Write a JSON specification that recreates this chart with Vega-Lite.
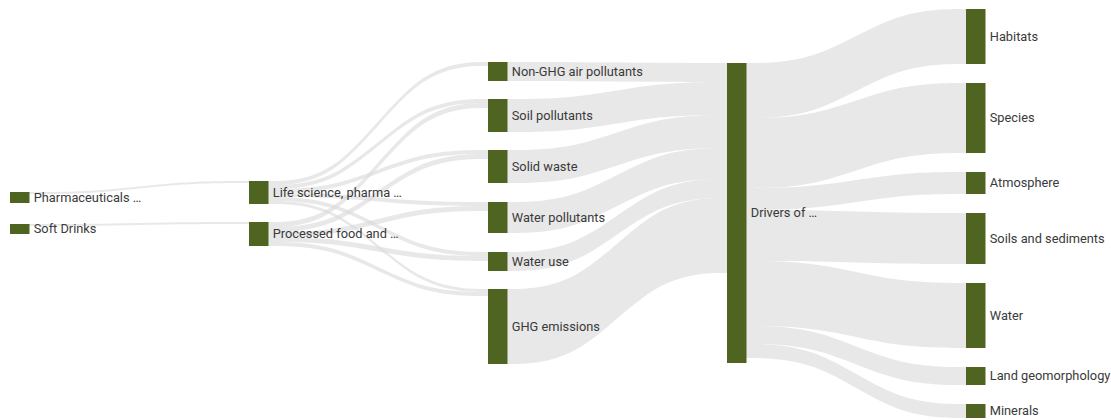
{
  "$schema": "https://vega.github.io/schema/vega-lite/v6.json",
  "width": 1111,
  "height": 420,
  "autosize": {"type": "none"},
  "padding": 0,
  "background": "white",
  "config": {"view": {"stroke": null}},
  "datasets": {
    "links": [
      {"l":"PL","x":0,"t":192,"b":194},{"l":"PL","x":0.333,"t":192,"b":194},{"l":"PL","x":0.667,"t":181,"b":183},{"l":"PL","x":1,"t":181,"b":183},
      {"l":"SP","x":0,"t":224,"b":226},{"l":"SP","x":0.333,"t":224,"b":226},{"l":"SP","x":0.667,"t":222,"b":224},{"l":"SP","x":1,"t":222,"b":224},
      {"l":"LNG","x":1,"t":181,"b":185},{"l":"LNG","x":1.333,"t":181,"b":185},{"l":"LNG","x":1.667,"t":62,"b":66},{"l":"LNG","x":2,"t":62,"b":66},
      {"l":"LSP","x":1,"t":185,"b":189},{"l":"LSP","x":1.333,"t":185,"b":189},{"l":"LSP","x":1.667,"t":99,"b":103},{"l":"LSP","x":2,"t":99,"b":103},
      {"l":"LSW","x":1,"t":189,"b":193},{"l":"LSW","x":1.333,"t":189,"b":193},{"l":"LSW","x":1.667,"t":150,"b":154},{"l":"LSW","x":2,"t":150,"b":154},
      {"l":"LWP","x":1,"t":193,"b":197},{"l":"LWP","x":1.333,"t":193,"b":197},{"l":"LWP","x":1.667,"t":202,"b":206},{"l":"LWP","x":2,"t":202,"b":206},
      {"l":"LWU","x":1,"t":197,"b":201},{"l":"LWU","x":1.333,"t":197,"b":201},{"l":"LWU","x":1.667,"t":252,"b":256},{"l":"LWU","x":2,"t":252,"b":256},
      {"l":"LGHG","x":1,"t":201,"b":204},{"l":"LGHG","x":1.333,"t":201,"b":204},{"l":"LGHG","x":1.667,"t":289,"b":292},{"l":"LGHG","x":2,"t":289,"b":292},
      {"l":"PSP","x":1,"t":222,"b":227},{"l":"PSP","x":1.333,"t":222,"b":227},{"l":"PSP","x":1.667,"t":103,"b":108},{"l":"PSP","x":2,"t":103,"b":108},
      {"l":"PSW","x":1,"t":227,"b":232},{"l":"PSW","x":1.333,"t":227,"b":232},{"l":"PSW","x":1.667,"t":154,"b":159},{"l":"PSW","x":2,"t":154,"b":159},
      {"l":"PWP","x":1,"t":232,"b":237},{"l":"PWP","x":1.333,"t":232,"b":237},{"l":"PWP","x":1.667,"t":206,"b":211},{"l":"PWP","x":2,"t":206,"b":211},
      {"l":"PWU","x":1,"t":237,"b":242},{"l":"PWU","x":1.333,"t":237,"b":242},{"l":"PWU","x":1.667,"t":256,"b":261},{"l":"PWU","x":2,"t":256,"b":261},
      {"l":"PGHG","x":1,"t":242,"b":246},{"l":"PGHG","x":1.333,"t":242,"b":246},{"l":"PGHG","x":1.667,"t":292,"b":296},{"l":"PGHG","x":2,"t":292,"b":296},
      {"l":"NGD","x":2,"t":62,"b":81},{"l":"NGD","x":2.333,"t":62,"b":81},{"l":"NGD","x":2.667,"t":63,"b":82},{"l":"NGD","x":3,"t":63,"b":82},
      {"l":"SPD","x":2,"t":99,"b":132},{"l":"SPD","x":2.333,"t":99,"b":132},{"l":"SPD","x":2.667,"t":82,"b":115},{"l":"SPD","x":3,"t":82,"b":115},
      {"l":"SWD","x":2,"t":150,"b":183},{"l":"SWD","x":2.333,"t":150,"b":183},{"l":"SWD","x":2.667,"t":115,"b":148},{"l":"SWD","x":3,"t":115,"b":148},
      {"l":"WPD","x":2,"t":202,"b":233},{"l":"WPD","x":2.333,"t":202,"b":233},{"l":"WPD","x":2.667,"t":148,"b":179},{"l":"WPD","x":3,"t":148,"b":179},
      {"l":"WUD","x":2,"t":252,"b":271},{"l":"WUD","x":2.333,"t":252,"b":271},{"l":"WUD","x":2.667,"t":179,"b":198},{"l":"WUD","x":3,"t":179,"b":198},
      {"l":"GHGD","x":2,"t":289,"b":364},{"l":"GHGD","x":2.333,"t":289,"b":364},{"l":"GHGD","x":2.667,"t":198,"b":273},{"l":"GHGD","x":3,"t":198,"b":273},
      {"l":"DH","x":3,"t":63,"b":118},{"l":"DH","x":3.333,"t":63,"b":118},{"l":"DH","x":3.667,"t":9,"b":64},{"l":"DH","x":4,"t":9,"b":64},
      {"l":"DS","x":3,"t":118,"b":188},{"l":"DS","x":3.333,"t":118,"b":188},{"l":"DS","x":3.667,"t":83,"b":153},{"l":"DS","x":4,"t":83,"b":153},
      {"l":"DA","x":3,"t":188,"b":210},{"l":"DA","x":3.333,"t":188,"b":210},{"l":"DA","x":3.667,"t":172,"b":194},{"l":"DA","x":4,"t":172,"b":194},
      {"l":"DSo","x":3,"t":210,"b":261},{"l":"DSo","x":3.333,"t":210,"b":261},{"l":"DSo","x":3.667,"t":213,"b":264},{"l":"DSo","x":4,"t":213,"b":264},
      {"l":"DW","x":3,"t":261,"b":326},{"l":"DW","x":3.333,"t":261,"b":326},{"l":"DW","x":3.667,"t":283,"b":348},{"l":"DW","x":4,"t":283,"b":348},
      {"l":"DL","x":3,"t":326,"b":344},{"l":"DL","x":3.333,"t":326,"b":344},{"l":"DL","x":3.667,"t":367,"b":385},{"l":"DL","x":4,"t":367,"b":385},
      {"l":"DM","x":3,"t":344,"b":358},{"l":"DM","x":3.333,"t":344,"b":358},{"l":"DM","x":3.667,"t":404,"b":418},{"l":"DM","x":4,"t":404,"b":418}
    ],
    "nodes": [
      {"name":"Pharmaceuticals …","stage":0,"t":192,"b":203,"m":197.5},
      {"name":"Soft Drinks","stage":0,"t":224,"b":234,"m":229},
      {"name":"Life science, pharma …","stage":1,"t":181,"b":204,"m":192.5},
      {"name":"Processed food and …","stage":1,"t":222,"b":246,"m":234},
      {"name":"Non-GHG air pollutants","stage":2,"t":62,"b":81,"m":71.5},
      {"name":"Soil pollutants","stage":2,"t":99,"b":132,"m":115.5},
      {"name":"Solid waste","stage":2,"t":150,"b":183,"m":166.5},
      {"name":"Water pollutants","stage":2,"t":202,"b":233,"m":217.5},
      {"name":"Water use","stage":2,"t":252,"b":271,"m":261.5},
      {"name":"GHG emissions","stage":2,"t":289,"b":364,"m":326.5},
      {"name":"Drivers of …","stage":3,"t":63,"b":363,"m":213},
      {"name":"Habitats","stage":4,"t":9,"b":64,"m":36.5},
      {"name":"Species","stage":4,"t":83,"b":153,"m":118},
      {"name":"Atmosphere","stage":4,"t":172,"b":194,"m":183},
      {"name":"Soils and sediments","stage":4,"t":213,"b":264,"m":238.5},
      {"name":"Water","stage":4,"t":283,"b":348,"m":315.5},
      {"name":"Land geomorphology","stage":4,"t":367,"b":385,"m":376},
      {"name":"Minerals","stage":4,"t":404,"b":418,"m":411}
    ]
  },
  "layer": [
    {
      "data": {"name": "links"},
      "mark": {"type": "area", "interpolate": "basis", "fill": "#d9d9d9", "opacity": 0.6},
      "encoding": {
        "x": {"field": "x", "type": "quantitative", "scale": {"domain": [-0.08264, 4.5659], "nice": false, "zero": false}, "axis": null},
        "y": {"field": "t", "type": "quantitative", "scale": {"domain": [0, 420], "reverse": true, "nice": false, "zero": false}, "axis": null},
        "y2": {"field": "b"},
        "detail": {"field": "l", "type": "nominal"}
      }
    },
    {
      "data": {"name": "nodes"},
      "mark": {"type": "rule", "strokeWidth": 19.5, "color": "#4f6420", "strokeCap": "butt"},
      "encoding": {
        "x": {"field": "stage", "type": "quantitative", "scale": {"domain": [-0.08264, 4.5659], "nice": false, "zero": false}, "axis": null},
        "y": {"field": "t", "type": "quantitative", "scale": {"domain": [0, 420], "reverse": true, "nice": false, "zero": false}, "axis": null},
        "y2": {"field": "b"}
      }
    },
    {
      "data": {"name": "nodes"},
      "mark": {"type": "text", "align": "left", "baseline": "middle", "dx": 14, "font": "Roboto", "fontSize": 12.8, "color": "#3a3a3a"},
      "encoding": {
        "x": {"field": "stage", "type": "quantitative", "scale": {"domain": [-0.08264, 4.5659], "nice": false, "zero": false}, "axis": null},
        "y": {"field": "m", "type": "quantitative", "scale": {"domain": [0, 420], "reverse": true, "nice": false, "zero": false}, "axis": null},
        "text": {"field": "name", "type": "nominal"}
      }
    }
  ]
}
